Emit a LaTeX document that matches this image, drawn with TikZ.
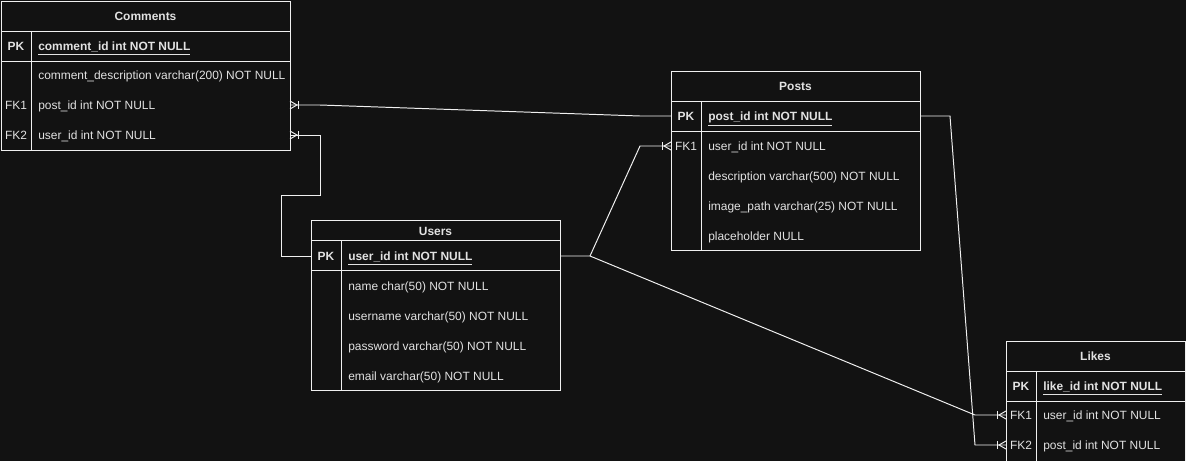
\documentclass[tikz,border=0pt]{standalone}
\usepackage{fontspec}
\setmainfont{Liberation Sans}
\usetikzlibrary{calc}

\definecolor{bgcol}{HTML}{121212}
\definecolor{lncol}{HTML}{F0F0F0}
\definecolor{txtcol}{HTML}{E2E2E2}
\newcommand{\pxu}{0.025cm}
\newcommand{\fsz}{\fontsize{8.5}{10}\selectfont}
% crow's foot (one and many) at a point on a table edge, #2 = 1 right / -1 left
\newcommand{\crowfoot}[2]{%
  \draw[conn] ($#1+(0,-4)$) -- ($#1+(#2*7,0)$) -- ($#1+(0,4)$);
  \draw[conn] ($#1+(#2*8.5,-4)$) -- ($#1+(#2*8.5,4)$);
}

\tikzset{
  tbl/.style={draw=lncol, line width=0.7pt, anchor=north west, inner sep=0pt, outer sep=0pt},
  sepline/.style={draw=lncol, line width=0.7pt},
  conn/.style={draw=lncol, line width=0.7pt},
  ttl/.style={text=txtcol, font=\fsz\bfseries, inner sep=0pt, text height=6.4pt, text depth=0pt},
  keylbl/.style={text=txtcol, font=\fsz, inner sep=0pt, text height=6.4pt, text depth=0pt},
  fld/.style={text=txtcol, font=\fsz, anchor=west, inner sep=0pt, text height=6.4pt, text depth=0pt},
  pk/.style={font=\fsz\bfseries}
}

\begin{document}
\begin{tikzpicture}[x=\pxu, y=-\pxu]
  \useasboundingbox (0,0) rectangle (1186,461);
  \fill[bgcol] (0,0) rectangle (1186,461);
  \clip (0,0) rectangle (1186,461);

  % Comments
  \node[tbl, minimum width=289*\pxu, minimum height=149*\pxu] (cmt) at (1,1) {};
  \draw[sepline] (1,31) -- (290,31) (1,61) -- (290,61) (31,31) -- (31,150);
  \node[ttl] (cmt-t) at (145.5,16) {Comments};
  \node[keylbl, pk] (cmt-pk-k) at (16,46) {PK};
  \node[fld, pk] (cmt-pk) at (38,46) {\underline{comment\_id int NOT NULL}};
  \foreach \k/\f/\nm [count=\i] in {/comment\_description varchar(200) NOT NULL/cmt-r1,
      FK1/post\_id int NOT NULL/cmt-fk1, FK2/user\_id int NOT NULL/cmt-fk2}{
    \node[keylbl] (\nm-k) at (16,45+30*\i) {\k};
    \node[fld] (\nm) at (38,45+30*\i) {\f};
  }

  % Posts
  \node[tbl, minimum width=249*\pxu, minimum height=179*\pxu] (pst) at (671,71) {};
  \draw[sepline] (671,101) -- (920,101) (671,131) -- (920,131) (701,101) -- (701,250);
  \node[ttl] (pst-t) at (795.5,86) {Posts};
  \node[keylbl, pk] (pst-pk-k) at (686,116) {PK};
  \node[fld, pk] (pst-pk) at (708,116) {\underline{post\_id int NOT NULL}};
  \foreach \k/\f/\nm [count=\i] in {FK1/user\_id int NOT NULL/pst-fk1,
      /description varchar(500) NOT NULL/pst-r2, /image\_path varchar(25) NOT NULL/pst-r3,
      /placeholder NULL/pst-r4}{
    \node[keylbl] (\nm-k) at (686,116+30*\i) {\k};
    \node[fld] (\nm) at (708,116+30*\i) {\f};
  }

  % Users
  \node[tbl, minimum width=249*\pxu, minimum height=170*\pxu] (usr) at (311,220) {};
  \draw[sepline] (311,240) -- (560,240) (311,270) -- (560,270) (341,240) -- (341,390);
  \node[ttl] (usr-t) at (435.5,230.5) {Users};
  \node[keylbl, pk] (usr-pk-k) at (326,256) {PK};
  \node[fld, pk] (usr-pk) at (348,256) {\underline{user\_id int NOT NULL}};
  \foreach \k/\f/\nm [count=\i] in {/name char(50) NOT NULL/usr-r1,
      /username varchar(50) NOT NULL/usr-r2, /password varchar(50) NOT NULL/usr-r3,
      /email varchar(50) NOT NULL/usr-r4}{
    \node[keylbl] (\nm-k) at (326,256+30*\i) {\k};
    \node[fld] (\nm) at (348,256+30*\i) {\f};
  }

  % Likes
  \node[tbl, minimum width=179*\pxu, minimum height=122*\pxu] (lik) at (1006,341) {};
  \draw[sepline] (1006,371) -- (1185,371) (1006,401) -- (1185,401) (1036,371) -- (1036,463);
  \node[ttl] (lik-t) at (1095.5,356) {Likes};
  \node[keylbl, pk] (lik-pk-k) at (1021,386) {PK};
  \node[fld, pk] (lik-pk) at (1043,386) {\underline{like\_id int NOT NULL}};
  \foreach \k/\f/\nm [count=\i] in {FK1/user\_id int NOT NULL/lik-fk1,
      FK2/post\_id int NOT NULL/lik-fk2}{
    \node[keylbl] (\nm-k) at (1021,385+30*\i) {\k};
    \node[fld] (\nm) at (1043,385+30*\i) {\f};
  }

  % relations
  \draw[conn] (pst.west |- pst-pk) -- ++(-31,0) -- ($(cmt.east |- cmt-fk1)+(30,0)$) -- (cmt.east |- cmt-fk1);
  \crowfoot{(cmt.east |- cmt-fk1)}{1}

  \draw[conn] (usr.west |- usr-pk) -- ++(-30,0) -- ++(0,-61) -- ++(39,0) |- (cmt.east |- cmt-fk2);
  \crowfoot{(cmt.east |- cmt-fk2)}{1}

  \draw[conn] (usr.east |- usr-pk) -- ++(30,0) coordinate (usr-out)
    -- ($(pst.west |- pst-fk1)+(-31,0)$) -- (pst.west |- pst-fk1);
  \crowfoot{(pst.west |- pst-fk1)}{-1}

  \draw[conn] (usr-out) -- ($(lik.west |- lik-fk1)+(-31,0)$) -- (lik.west |- lik-fk1);
  \crowfoot{(lik.west |- lik-fk1)}{-1}

  \draw[conn] (pst.east |- pst-pk) -- ++(30,0) -- ($(lik.west |- lik-fk2)+(-31,0)$) -- (lik.west |- lik-fk2);
  \crowfoot{(lik.west |- lik-fk2)}{-1}

\end{tikzpicture}
\end{document}
